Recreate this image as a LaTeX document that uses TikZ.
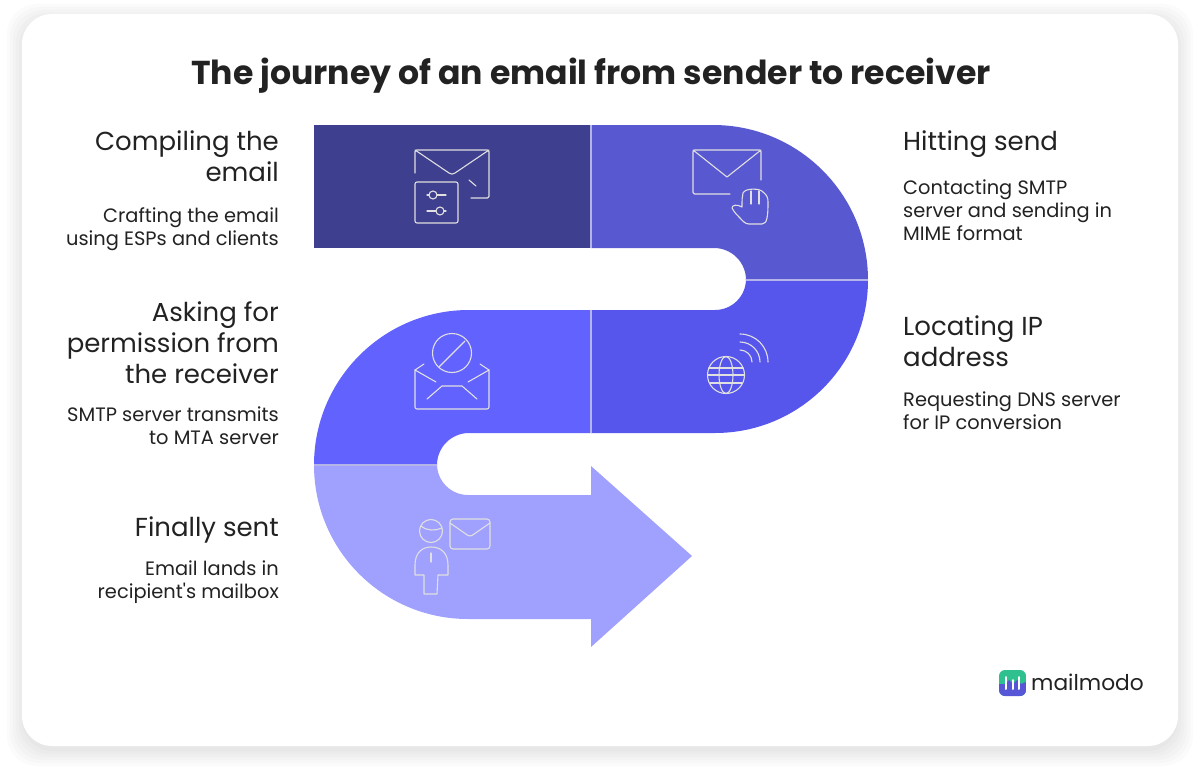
\documentclass[tikz,border=0pt]{standalone}
\usepackage{fontspec}
\setmainfont{Poppins}
\newfontfamily\plainfont{Poppins}
\definecolor{segA}{HTML}{3F3F8F}
\definecolor{segB}{HTML}{5858D0}
\definecolor{segC}{HTML}{5656EC}
\definecolor{segD}{HTML}{6262FF}
\definecolor{segE}{HTML}{A0A0FF}
\definecolor{divcol}{HTML}{B4B4E8}
\definecolor{inkcol}{HTML}{222222}
\definecolor{logoG}{HTML}{2FC08F}
\definecolor{logoB}{HTML}{5656D6}
\tikzset{
  iconline/.style={draw=white!88!black,line width=1.1pt,line cap=round,line join=round},
  divider/.style={draw=divcol,line width=1.4pt},
  headtext/.style={inner sep=0pt,align=right,anchor=north east,text=inkcol,font=\fontsize{26}{31}\selectfont},
  subtext/.style={inner sep=0pt,align=right,anchor=north east,text=inkcol,font=\fontsize{19.4}{23}\selectfont},
  headleft/.style={inner sep=0pt,align=left,anchor=north west,text=inkcol,font=\fontsize{26}{31}\selectfont},
  subleft/.style={inner sep=0pt,align=left,anchor=north west,text=inkcol,font=\fontsize{19.4}{23}\selectfont},
}
\begin{document}
\begin{tikzpicture}[x=1pt,y=-1pt]
\useasboundingbox (0,0) rectangle (1200,776);
\fill[white] (0,0) rectangle (1200,776);
% card shadow
\foreach \s in {15,12,9,6,3,0}
  \fill[black,opacity=0.014] (22-\s,14-\s+5) [rounded corners=30pt] rectangle (1178+\s,746+\s+5);
\fill[white,rounded corners=30pt] (22,14) rectangle (1178,746);
% title
\node[inner sep=0pt,text=inkcol] (title) at (591,76) {\fontsize{33.1}{40}\selectfont\bfseries The journey of an email from sender to receiver};
% ribbon
\fill[segA] (314,125) rectangle (591,248);
\fill[segB] (591,125) -- (713,125) arc[start angle=-90,end angle=0,radius=155] -- (746,280)
  arc[start angle=0,end angle=-90,radius=32] -- (591,248) -- cycle;
\fill[segC] (591,310) -- (715,310) arc[start angle=90,end angle=0,radius=31] -- (868,280)
  arc[start angle=0,end angle=90,radius=153] -- (591,433) -- cycle;
\fill[segD] (591,310) -- (469,310) arc[start angle=-90,end angle=-180,radius=155] -- (437,465)
  arc[start angle=180,end angle=270,radius=32] -- (591,433) -- cycle;
\fill[segE] (314,465) arc[start angle=180,end angle=90,radius=154] -- (591,619) -- (591,647) -- (692,556) -- (591,466) -- (591,495)
  -- (468,495) arc[start angle=90,end angle=180,radius=31] -- cycle;
% dividers
\draw[divider] (591,125) -- (591,248);
\draw[divider] (591,310) -- (591,433);
\draw[divider] (746,280) -- (868,280);
\draw[divider] (314,465) -- (437,465);
% icon 1
\draw[iconline,rounded corners=1.5pt] (415,173) -- (415,150) -- (489,150) -- (489,198) -- (471,198);
\draw[iconline] (415,150) -- (449,173) .. controls (451,174.5) and (453,174.5) .. (455,173) -- (489,150);
\draw[iconline] (469,180) -- (476,186);
\draw[iconline,rounded corners=2pt] (415,182) rectangle (458,223);
\draw[iconline] (427,195) -- (429,195) (437,195) -- (446,195) (427,211) -- (436,211) (444,211) -- (446,211);
\draw[iconline] (433,195) circle[radius=4] (440,211) circle[radius=4];
% icon 2
\draw[iconline,rounded corners=1.5pt] (761,180) -- (761,150) -- (693,150) -- (693,194) -- (730,194);
\draw[iconline] (693,150) -- (727,177) -- (761,150);
\draw[iconline] (742,207) .. controls (742,200) and (742,197) .. (743,193)
  .. controls (745,188) and (760,188) .. (763,192)
  .. controls (767,195) and (768,198) .. (768,202)
  .. controls (768,208) and (768,213) .. (767,218)
  .. controls (766,222) and (765,224) .. (762,224) -- (749,224)
  .. controls (745,224) and (743,221) .. (740,218)
  .. controls (737,215) and (734,212) .. (732,208)
  .. controls (732,205) and (737,204) .. (742,207);
\draw[iconline] (751,191) -- (751,204) (759,191) -- (759,204);
% icon 3
\draw[iconline] (452,353) circle[radius=19.5];
\draw[iconline] (439,367) -- (465,341);
\draw[iconline] (424,364) -- (415,370);
\draw[iconline] (480,364) -- (489,370);
\draw[iconline,rounded corners=2pt] (415,370) -- (415,409) -- (489,409) -- (489,370);
\draw[iconline] (415,370) -- (436,382) (489,370) -- (468,382);
\draw[iconline] (427,399) -- (442,386) -- (462,386) -- (477,399);
% icon 4
\draw[iconline] (726,375) circle[radius=18.5];
\draw[iconline] (726,375) ellipse[x radius=7,y radius=18.5];
\draw[iconline] (709,368) -- (743,368) (707.5,375) -- (744.5,375) (710,383) -- (742,383);
\draw[iconline] (740,350) .. controls (746.6,350) and (752,355.4) .. (752,362);
\draw[iconline] (740,342) .. controls (751,342) and (760,351) .. (760,362);
\draw[iconline] (740,334) .. controls (755.5,334) and (768,346.5) .. (768,362);
% icon 5
\draw[iconline] (431,531) circle[radius=11.5];
\draw[iconline] (421,526) .. controls (427,531) and (435,531) .. (442,528);
\draw[iconline] (424,594) -- (424,575) -- (415,575) -- (415,565)
  .. controls (415,552) and (423,547) .. (431,547) .. controls (440,547) and (448,552) .. (448,565) -- (448,575) -- (438,575) -- (437,594) -- cycle;
\draw[iconline] (431,553) -- (431,562);
\draw[iconline,rounded corners=3pt] (450,519) rectangle (490,549);
\draw[iconline] (450,523) -- (468,535.5) .. controls (469,536) and (471,536) .. (472,535.5) -- (490,523);
% text left
\node[headtext] (h1) at (279,131) {Compiling the\\email};
\node[subtext] (s1) at (279,207) {Crafting the email\\using ESPs and clients};
\node[headtext] (h3) at (279,301) {Asking for\\permission from\\the receiver};
\node[subtext] (s3) at (279,407) {SMTP server transmits\\to MTA server};
\node[headtext] (h5) at (279,517) {Finally sent};
\node[subtext] (s5) at (279,561) {Email lands in\\{\plainfont recipient's mailbox}};
% text right
\node[headleft] (h2) at (903,131) {Hitting send};
\node[subleft] (s2) at (903,180) {Contacting SMTP\\server and sending in\\MIME format};
\node[headleft] (h4) at (903,316) {Locating IP\\address};
\node[subleft] (s4) at (903,392) {Requesting DNS server\\for IP conversion};
% logo
\begin{scope}
\clip[rounded corners=6pt] (999,670) rectangle (1026,696);
\fill[logoG] (999,670) rectangle (1026,696);
\fill[logoB] (999,684) -- (1005,684) -- (1009,680) -- (1013,684) -- (1017,680) -- (1021,684) -- (1026,682) -- (1026,696) -- (999,696) -- cycle;
\end{scope}
\draw[white,line width=2pt,line cap=round] (1006,677) -- (1006,689) (1012.5,680) -- (1012.5,689) (1019,677) -- (1019,689);
\node[inner sep=0pt,anchor=base west,text=inkcol] (logo) at (1031,690) {\fontsize{21.7}{30}\selectfont mailmodo};
\end{tikzpicture}
\end{document}
